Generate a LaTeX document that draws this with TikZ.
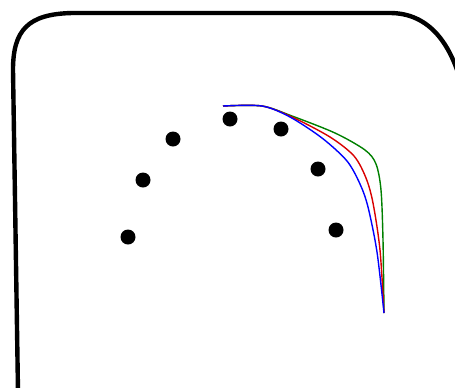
\documentclass[tikz,border=0pt]{standalone}
\usepackage{tikz}
\usepackage{xcolor}

\begin{document}
\begin{tikzpicture}[x=0.5pt,y=-0.5pt,line join=round]
\useasboundingbox (0,0) rectangle (455,387);
\clip (0,0) rectangle (455,387);
\draw[line width=2.2pt] (18,392) -- (13,70) .. controls (13,30) and (28,14) .. (72,13)
   -- (390,13) .. controls (428,13) and (455,42) .. (466,105) -- (468,392);
\foreach \x/\y in {128/237,143/180,173/139,230/119,281/129,318/169,336/230}
   \fill (\x,\y) circle(7.5);
\draw[green!50!black,line width=0.7pt,smooth] plot coordinates
   {(223,106) (262,106) (292,116) (335,133) (365,150) (376,164) (381,190) (383,240) (384,313)};
\draw[red!85!black,line width=0.7pt,smooth] plot coordinates
   {(223,106) (262,106) (292,117) (330,137) (354,156) (366,178) (373,203) (380,250) (384,313)};
\draw[blue,line width=0.7pt,smooth] plot coordinates
   {(223,106) (262,106) (290,117) (322,138) (347,161) (360,184) (368,207) (377,252) (384,313)};
\end{tikzpicture}
\end{document}
